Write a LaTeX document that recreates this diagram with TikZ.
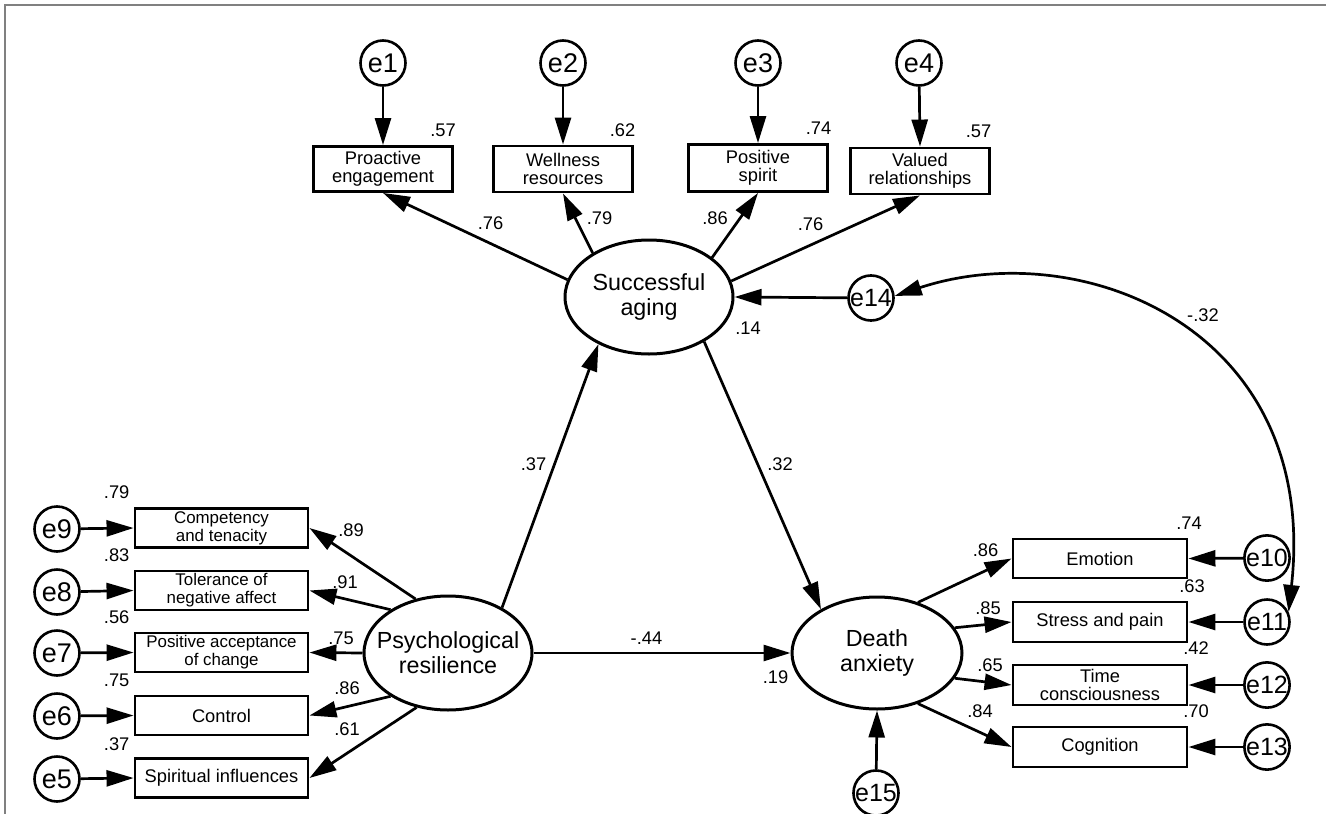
\documentclass[tikz,border=0pt]{standalone}
\usepackage{fontspec}
\setmainfont{Liberation Sans}
\usetikzlibrary{arrows.meta,shapes.geometric}
\begin{document}
\begin{tikzpicture}[x=1pt,y=-1pt,
  tip/.tip={Triangle[length=27pt,width=16pt]},
  conn/.style={line width=2.7pt,-tip},
  obs/.style={draw,line width=2.9pt,rectangle,inner sep=0pt,align=center,
    font=\fontsize{18.3}{18.5}\selectfont},
  obss/.style={obs,font=\fontsize{16.9}{18}\selectfont},
  err/.style={draw,circle,line width=2.6pt,minimum size=45pt,inner sep=0pt,
    font=\fontsize{27}{27}\selectfont},
  errr/.style={err,font=\fontsize{25}{25}\selectfont},
  lat/.style={draw,ellipse,line width=3pt,inner sep=0pt},
  lattext/.style={align=center,font=\fontsize{23.3}{25}\selectfont},
  num/.style={inner sep=0pt,font=\fontsize{18.3}{18}\selectfont},
]
\useasboundingbox (0,0) rectangle (1326,814);
\fill[white] (0,0) rectangle (1326,814);
\draw[gray,line width=2pt] (5,814) -- (5,5) -- (1326,5);

% ---------- top indicators ----------
\node[err] (e1) at (383,63) {e1};
\node[err] (e2) at (563,63) {e2};
\node[err] (e3) at (758,63) {e3};
\node[err] (e4) at (919,63) {e4};
\node[obs,minimum width=139pt,minimum height=45pt] (PE) at (383,169) {Proactive\\engagement};
\node[obs,minimum width=139pt,minimum height=46pt] (WR) at (563,169) {Wellness\\resources};
\node[obs,minimum width=139pt,minimum height=47pt] (PS) at (758,168) {Positive\\spirit};
\node[obs,minimum width=139pt,minimum height=46pt] (VR) at (920,171) {Valued\\relationships};

% ---------- latent variables ----------
\node[lat,minimum width=168pt,minimum height=114pt] (SA) at (649,297) {};
\node[lattext] (SAt) at (SA.center) {Successful\\aging};
\node[lat,minimum width=168pt,minimum height=114pt] (PR) at (448,653) {};
\node[lattext] (PRt) at (PR.center) {Psychological\\resilience};
\node[lat,minimum width=170pt,minimum height=112pt] (DA) at (877,653) {};
\node[lattext] (DAt) at (DA.center) {Death\\anxiety};

\node[errr] (e14) at (871,298) {e14};
\node[errr] (e15) at (876,793) {e15};

% ---------- left indicators ----------
\node[err] (e9) at (57,529) {e9};
\node[err] (e8) at (57,592) {e8};
\node[err] (e7) at (57,653) {e7};
\node[err] (e6) at (57,716) {e6};
\node[err] (e5) at (57,779) {e5};
\node[obss,minimum width=173pt,minimum height=39pt] (CT) at (221.5,528) {Competency\\and tenacity};
\node[obss,minimum width=173pt,minimum height=39pt] (TN) at (221.5,590.5) {Tolerance of\\negative affect};
\node[obss,minimum width=173pt,minimum height=39pt] (PA) at (221.5,652.5) {Positive acceptance\\of change};
\node[obs,minimum width=173pt,minimum height=39pt] (CO) at (221.5,715.5) {Control};
\node[obs,minimum width=173pt,minimum height=39pt] (SI) at (221.5,778) {Spiritual influences};

% ---------- right indicators ----------
\node[obs,minimum width=174pt,minimum height=39pt] (EM) at (1100,558.5) {Emotion};
\node[obs,minimum width=174pt,minimum height=40pt] (SP) at (1100,622) {Stress and pain};
\node[obs,minimum width=174pt,minimum height=40pt] (TC) at (1100,685) {Time\\consciousness};
\node[obs,minimum width=174pt,minimum height=40pt] (CG) at (1100,747) {Cognition};
\node[errr] (e10) at (1267,558) {e10};
\node[errr] (e11) at (1267,622) {e11};
\node[errr] (e12) at (1267,685) {e12};
\node[errr] (e13) at (1267,747) {e13};

% ---------- connectors ----------
\draw[conn] (e1) -- (PE.north);
\draw[conn] (e2) -- (WR.north);
\draw[conn] (e3) -- (PS.north);
\draw[conn] (e4) -- (VR.north);
\draw[conn] (SA.168) -- (PE.south);
\draw[conn] (SA.142) -- (WR.south);
\draw[conn] (SA.32) -- (PS.south);
\draw[conn] (SA.11) -- (VR.south);
\draw[conn] (e14) -- (SA.east);
\draw[conn] (PR.40) -- (SA.223);
\draw[conn] (SA.321) -- (DA.142);
\draw[conn] (PR.east) -- (DA.west);
\draw[conn] (e15) -- (DA.south);

\draw[conn] (e9) -- (CT.west);
\draw[conn] (e8) -- (TN.west);
\draw[conn] (e7) -- (PA.west);
\draw[conn] (e6) -- (CO.west);
\draw[conn] (e5) -- (SI.west);
\draw[conn] (PR.121) -- (CT.east);
\draw[conn] (PR.143) -- (TN.east);
\draw[conn] (PR.180) -- (PA.east);
\draw[conn] (PR.217) -- (CO.east);
\draw[conn] (PR.240) -- (SI.east);

\draw[conn] (DA.51) -- (EM.west);
\draw[conn] (DA.18) -- (SP.west);
\draw[conn] (DA.-18) -- (TC.west);
\draw[conn] (DA.-51) -- (CG.west);
\draw[conn] (e10) -- (EM.east);
\draw[conn] (e11) -- (SP.east);
\draw[conn] (e12) -- (TC.east);
\draw[conn] (e13) -- (CG.east);

\draw[line width=2.7pt,tip-tip] (e14.5) .. controls (1083,234) and (1320,330) .. (e11.25);

% ---------- numbers ----------
\node[num] at (443,130) {.57};
\node[num] at (622.5,130) {.62};
\node[num] at (818.5,128) {.74};
\node[num] at (978.5,131.5) {.57};
\node[num] at (490.5,223) {.76};
\node[num] at (599.5,218) {.79};
\node[num] at (715,218) {.86};
\node[num] at (810.5,224) {.76};
\node[num] at (748,328) {.14};
\node[num] at (1203,315) {-.32};
\node[num] at (533.5,464) {.37};
\node[num] at (780,464) {.32};
\node[num] at (646.5,638) {-.44};
\node[num] at (775.5,677) {.19};

\node[num] at (116.7,492) {.79};
\node[num] at (116.7,555) {.83};
\node[num] at (116.7,617) {.56};
\node[num] at (116.7,680) {.75};
\node[num] at (116.7,744) {.37};
\node[num] at (351,530) {.89};
\node[num] at (345,582) {.91};
\node[num] at (341,638) {.75};
\node[num] at (347,688) {.86};
\node[num] at (347,729) {.61};

\node[num] at (1189,523) {.74};
\node[num] at (1192,586) {.63};
\node[num] at (1196,648) {.42};
\node[num] at (1196,711) {.70};
\node[num] at (985.5,550) {.86};
\node[num] at (988,608) {.85};
\node[num] at (990,665) {.65};
\node[num] at (980,711) {.84};
\end{tikzpicture}
\end{document}
